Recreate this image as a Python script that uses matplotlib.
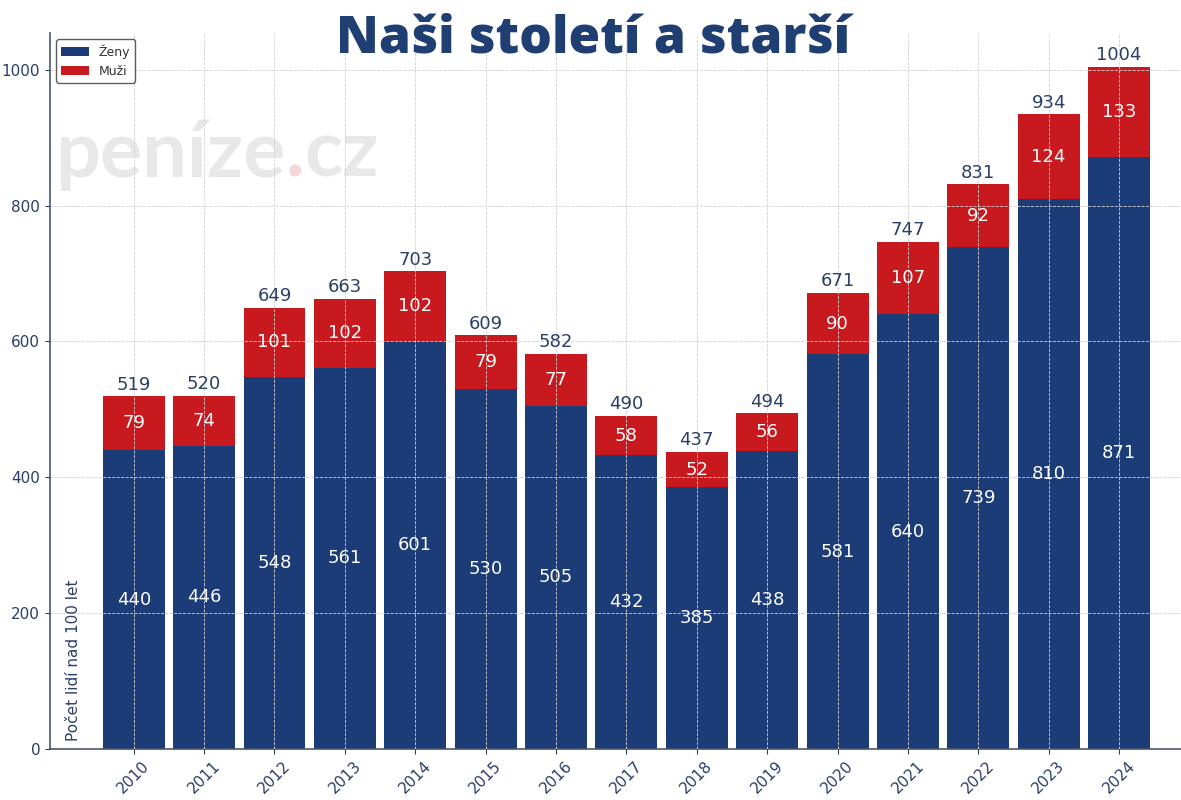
import matplotlib.pyplot as plt
import numpy as np

# data
years = ["2010", "2011", "2012", "2013", "2014", "2015", "2016", "2017",
         "2018", "2019", "2020", "2021", "2022", "2023", "2024"]
zeny = [440, 446, 548, 561, 601, 530, 505, 432, 385, 438, 581, 640, 739, 810, 871]
muzi = [79, 74, 101, 102, 102, 79, 77, 58, 52, 56, 90, 107, 92, 124, 133]
celkem = [519, 520, 649, 663, 703, 609, 582, 490, 437, 494, 671, 747, 831, 934, 1004]

blue = "#1c3c78"
red = "#c8191e"
textc = "#2b3f66"

fig = plt.figure(figsize=(11.81, 8), dpi=100)
ax = fig.add_axes([0.0423, 0.0638, 0.9577, 0.895])

x = np.arange(len(years))
ax.bar(x, zeny, width=0.88, color=blue, label="Ženy", zorder=2)
ax.bar(x, muzi, width=0.88, bottom=zeny, color=red, label="Muži", zorder=2)

for i in range(len(years)):
    ax.text(x[i], zeny[i] / 2, str(zeny[i]), ha="center", va="center",
            color="white", fontsize=13, zorder=4)
    ax.text(x[i], zeny[i] + muzi[i] / 2, str(muzi[i]), ha="center", va="center",
            color="white", fontsize=13, zorder=4)
    ax.text(x[i], celkem[i] + 4, str(celkem[i]), ha="center", va="bottom",
            color=textc, fontsize=13, zorder=4)

ax.set_xlim(-1.19, 14.88)
ax.set_ylim(0, 1054)
ax.set_yticks([0, 200, 400, 600, 800, 1000])
ax.set_xticks(x)
ax.set_xticklabels(years, rotation=45, fontsize=11, color=textc)
ax.tick_params(axis="y", labelsize=11, colors=textc)
ax.tick_params(axis="x", colors=textc)

ax.grid(True, linestyle="--", linewidth=0.6, color="#d0d0d0", zorder=3)
ax.set_axisbelow(False)

for s in ["top", "right"]:
    ax.spines[s].set_visible(False)
for s in ["left", "bottom"]:
    ax.spines[s].set_color("#4a5670")
    ax.spines[s].set_linewidth(1.2)

ax.text(-0.85, 12, "Počet lidí nad 100 let", rotation=90, ha="center",
        va="bottom", fontsize=11, color=textc, zorder=5)

# watermark
wm_font = ["Lato", "DejaVu Sans"]
wm1 = ax.text(-1.12, 875, "peníze", fontsize=57, fontweight="bold",
              color="#e8e8e8", ha="left", va="center", zorder=1,
              family=wm_font)
wm2 = ax.annotate(".", xy=(1, 0), xycoords=wm1, va="bottom", ha="left",
                  fontsize=57, fontweight="bold", color="#f6d6d9", zorder=1,
                  family=wm_font)
ax.annotate("cz", xy=(1, 0), xycoords=wm2, va="bottom", ha="left",
            fontsize=57, fontweight="bold", color="#e8e8e8", zorder=1,
            family=wm_font)

fig.text(0.502, 0.951, "Naši století a starší", ha="center", va="center",
         fontsize=37, fontweight=800, color="#1f3f73",
         family=["Open Sans", "DejaVu Sans"])

leg = ax.legend(loc="upper left", fontsize=9, frameon=True, fancybox=True,
                edgecolor="#333333", handlelength=2.2,
                bbox_to_anchor=(0.0, 1.0))
leg.get_frame().set_linewidth(1.0)
for t in leg.get_texts():
    t.set_color("#333333")

fig.savefig("out.png", dpi=100)
